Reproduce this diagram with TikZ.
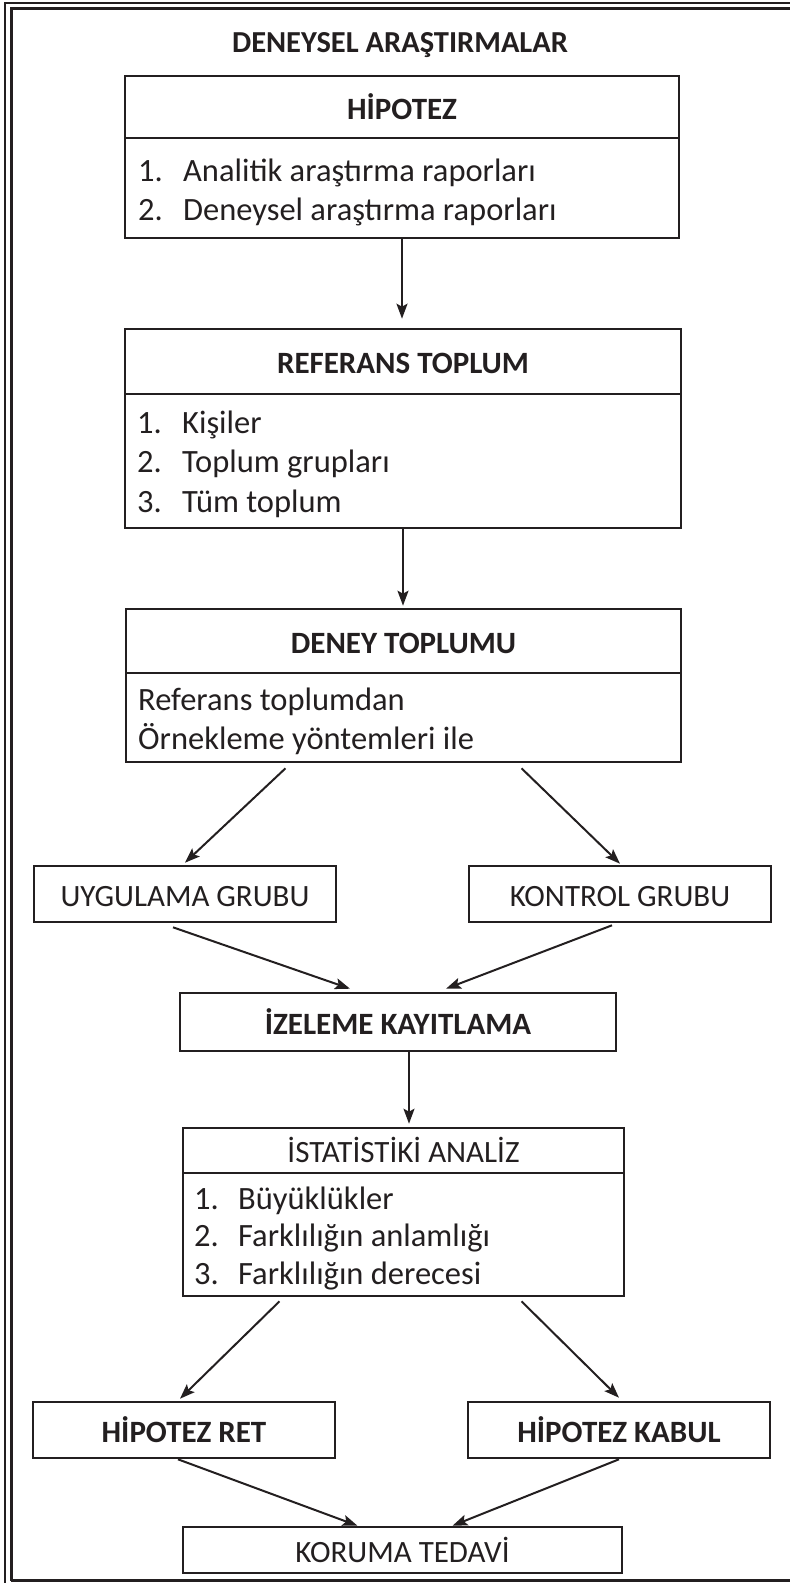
\documentclass[tikz,border=0pt]{standalone}
\usepackage{fontspec}
\setmainfont{Carlito}
\usetikzlibrary{arrows.meta}
\definecolor{ink}{RGB}{35,31,32}

\begin{document}
\begin{tikzpicture}[x=1pt,y=-1pt,
  txt/.style={text=ink, inner sep=0pt, font=\fontsize{31}{39}\selectfont},
  box/.style={txt, draw=ink, line width=2.6pt, text height=24pt, text depth=0pt},
  itemline/.style={txt, anchor=base west, font=\fontsize{32.5}{39}\selectfont},
  arr/.style={draw=ink, line width=2pt, -{Stealth[length=15pt,width=11pt,inset=3pt]}},
  frame/.style={draw=ink}
]
\useasboundingbox (0,0) rectangle (790,1583);

% double frame round the page
\draw[frame, line width=2pt] (5,1600) -- (5,2.5) -- (805,2.5);
\draw[frame, line width=3pt] (11,1580.5) -- (11,8) -- (805,8);
\draw[frame, line width=3pt] (11,1580.5) -- (805,1580.5);

% title
\node[txt, anchor=base, font=\fontsize{30.5}{39}\selectfont\bfseries] (title) at (400,52.5) {DENEYSEL ARAŞTIRMALAR};

% hypothesis
\node[box, minimum width=554pt, minimum height=62pt] (hipH) at (402,107) {\bfseries HİPOTEZ};
\node[box, minimum width=554pt, minimum height=100pt] (hipB) at (402,188) {};
\node[itemline] (hip1) at (138,181.5) {\makebox[45pt][l]{1.}Analitik araştırma raporları};
\node[itemline] (hip2) at (138,220.5) {\makebox[45pt][l]{2.}Deneysel araştırma raporları};

% reference population
\node[box, minimum width=556pt, minimum height=65pt] (refH) at (403,361.5) {\bfseries REFERANS TOPLUM};
\node[box, minimum width=556pt, minimum height=134pt] (refB) at (403,461) {};
\node[itemline] (ref1) at (137,433) {\makebox[45pt][l]{1.}Kişiler};
\node[itemline] (ref2) at (137,472) {\makebox[45pt][l]{2.}Toplum grupları};
\node[itemline] (ref3) at (137,512.5) {\makebox[45pt][l]{3.}Tüm toplum};

% experimental population
\node[box, minimum width=555pt, minimum height=64pt] (denH) at (403.5,641) {\bfseries DENEY TOPLUMU};
\node[box, minimum width=555pt, minimum height=89pt] (denB) at (403.5,717.5) {};
\node[itemline] (den1) at (138,710) {Referans toplumdan};
\node[itemline] (den2) at (138,749.5) {Örnekleme yöntemleri ile};

% groups
\node[box, minimum width=302pt, minimum height=56pt] (uyg) at (185,894) {UYGULAMA GRUBU};
\node[box, minimum width=302pt, minimum height=56pt] (kon) at (620,894) {KONTROL GRUBU};

% observation
\node[box, minimum width=436pt, minimum height=58pt] (izl) at (398,1022) {\bfseries İZELEME KAYITLAMA};

% statistics
\node[box, minimum width=441pt, minimum height=45pt] (istH) at (403.5,1150.5) {İSTATİSTİKİ ANALİZ};
\node[box, minimum width=441pt, minimum height=123pt] (istB) at (403.5,1234.5) {};
\node[itemline] (ist1) at (194,1209) {\makebox[44pt][l]{1.}Büyüklükler};
\node[itemline] (ist2) at (194,1246) {\makebox[44pt][l]{2.}Farklılığın anlamlığı};
\node[itemline] (ist3) at (194,1284) {\makebox[44pt][l]{3.}Farklılığın derecesi};

% outcomes
\node[box, minimum width=302pt, minimum height=56pt] (ret) at (184,1430) {\bfseries HİPOTEZ RET};
\node[box, minimum width=302pt, minimum height=56pt] (kab) at (619,1430) {\bfseries HİPOTEZ KABUL};
\node[box, minimum width=439pt, minimum height=46pt] (kor) at (402.5,1550) {KORUMA TEDAVİ};

% connectors
\draw[arr, shorten >=9pt] (hipB.south) -- (hipB.south |- refH.north);
\draw[arr, shorten >=2pt] (refB.south) -- (refB.south |- denH.north);
\draw[arr] ([xshift=-118pt,yshift=-5pt]denB.south) -- ([yshift=2pt]uyg.north);
\draw[arr] ([xshift=118pt,yshift=-5pt]denB.south) -- ([yshift=1pt]kon.north);
\draw[arr] ([xshift=-12pt,yshift=-4pt]uyg.south) -- ([xshift=-48pt,yshift=3pt]izl.north);
\draw[arr] ([xshift=-8pt,yshift=-2pt]kon.south) -- ([xshift=48pt,yshift=3pt]izl.north);
\draw[arr, shorten >=3pt] ([xshift=11pt]izl.south) -- ([xshift=11pt]izl.south |- istH.north);
\draw[arr] ([xshift=-124pt,yshift=-4pt]istB.south) -- ([xshift=-4pt,yshift=2pt]ret.north);
\draw[arr] ([xshift=118pt,yshift=-4pt]istB.south) -- ([yshift=3pt]kab.north);
\draw[arr] ([xshift=-6pt]ret.south) -- ([xshift=-45pt]kor.north);
\draw[arr] (kab.south) -- ([xshift=50pt]kor.north);
\end{tikzpicture}
\end{document}
